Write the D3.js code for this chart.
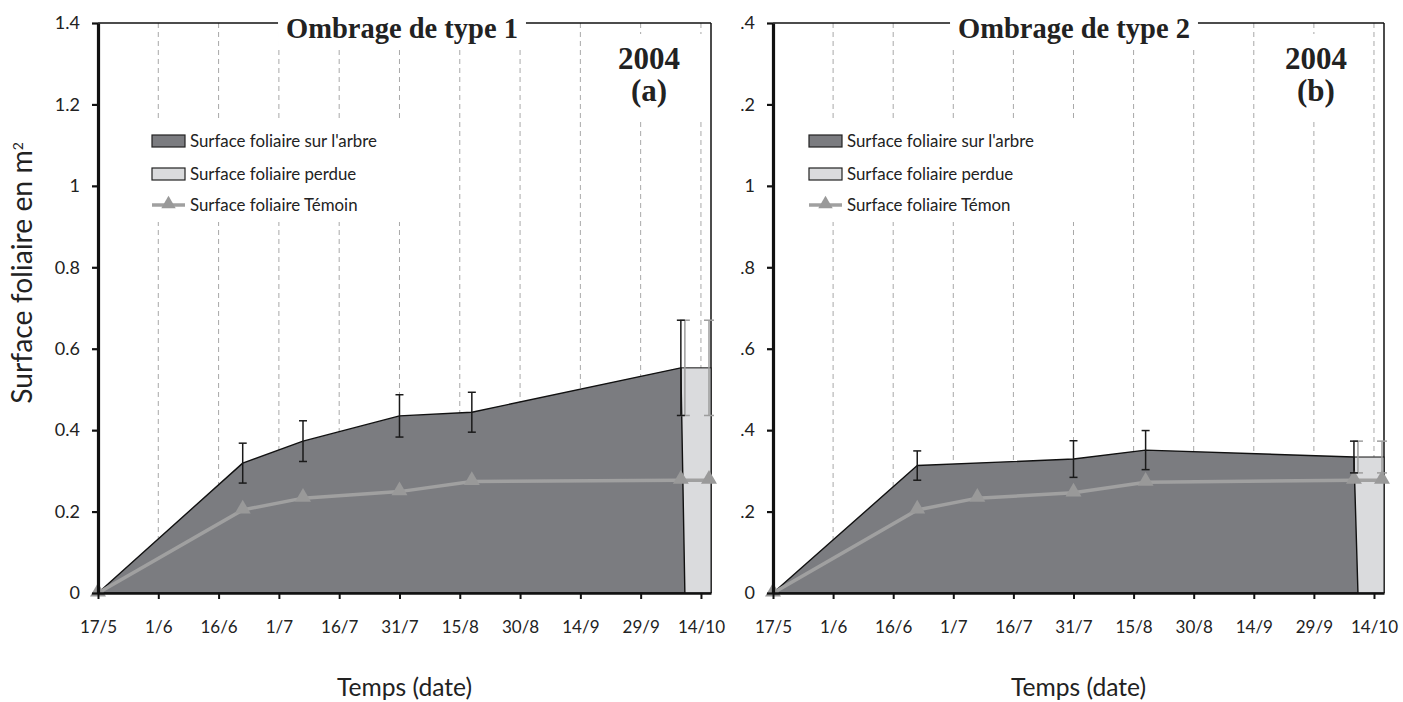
<!DOCTYPE html>
<html><head><meta charset="utf-8">
<script src="https://cdn.jsdelivr.net/npm/d3@7"></script>
<style>body{margin:0;background:#fff}svg{display:block}</style>
</head><body><svg id="c" width="1403" height="702"></svg>
<script>
// ---------- DATA ----------
const xTickLabels = ["17/5","1/6","16/6","1/7","16/7","31/7","15/8","30/8","14/9","29/9","14/10"];
const yTickValues = [0,0.2,0.4,0.6,0.8,1,1.2,1.4];
const yTickLabels = ["0","0.2","0.4","0.6","0.8","1","1.2","1.4"];

// Panel (a)
const arbreDatesA = ["17/5","22/6","7/7","31/7","18/8","9/10"];
const arbreA      = [0, 0.319, 0.373, 0.435, 0.444, 0.553];
const arbreErrA   = [null, 0.049, 0.050, 0.052, 0.049, 0.117];
const perdueDates = ["10/10","16/10"];
const perdueErrA  = [0.117, 0.117];
const temoinDates = ["17/5","22/6","7/7","31/7","18/8","9/10","16/10"];
const temoinA     = [0, 0.204, 0.233, 0.249, 0.274, 0.277, 0.277];

// Panel (b)
const arbreDatesB = ["17/5","22/6","31/7","18/8","9/10"];
const arbreB      = [0, 0.313, 0.329, 0.351, 0.334];
const arbreErrB   = [null, 0.036, 0.045, 0.048, 0.039];
const perdueErrB  = [0.039, 0.039];
const temoinB     = [0, 0.204, 0.233, 0.246, 0.272, 0.277, 0.277];

const titles      = ["Ombrage de type 1","Ombrage de type 2"];
const yearLabel   = "2004";
const panelLabels = ["(a)","(b)"];
const legendA     = ["Surface foliaire sur l'arbre","Surface foliaire perdue","Surface foliaire Témoin"];
const legendB     = ["Surface foliaire sur l'arbre","Surface foliaire perdue","Surface foliaire Témon"];
const yTitle      = "Surface foliaire en m";
const yTitleSup   = "2";
const xTitle      = "Temps (date)";

// ---------- LAYOUT / STYLE ----------
const svg = d3.select("#c");
const parse = s => d3.timeParse("%d/%m/%Y")(s + "/2004");
const TOP = 23, BOTTOM = 593;
const SANS = "Lato, 'Open Sans', sans-serif";
const SERIF = "'Liberation Serif', 'Times New Roman', serif";
const C_DARK = "#7b7c80", C_LIGHT = "#dadbdd", C_TEM = "#a0a0a0";

const panels = [
  {left:98, right:711, titleX:402, yearX:649, legendX:152, clip:null,
   arbreDates:arbreDatesA, arbre:arbreA, arbreErr:arbreErrA, perdueErr:perdueErrA,
   temoin:temoinA, title:titles[0], label:panelLabels[0], legend:legendA},
  {left:773, right:1384, titleX:1074, yearX:1316, legendX:809, clip:741,
   arbreDates:arbreDatesB, arbre:arbreB, arbreErr:arbreErrB, perdueErr:perdueErrB,
   temoin:temoinB, title:titles[1], label:panelLabels[1], legend:legendB}
];

const y = d3.scaleLinear().domain([0,1.4]).range([BOTTOM, TOP]);

const defs = svg.append("defs");
defs.append("clipPath").attr("id","clipB").append("rect")
  .attr("x",741).attr("y",0).attr("width",1403-741).attr("height",702);

function fit(sel, target){
  const w = sel.node().getComputedTextLength();
  const fs = parseFloat(sel.attr("font-size"));
  sel.attr("font-size", (fs*target/w).toFixed(2));
}

// draw panel b first, then a
[panels[1], panels[0]].forEach(p => {
  const g = svg.append("g").attr("clip-path", p.clip ? "url(#clipB)" : null);
  const x = d3.scaleTime()
    .domain([parse("17/5"), d3.timeHour.offset(parse("16/10"), 12)])
    .range([p.left, p.right]);

  // gridlines
  g.append("g").selectAll("line").data(xTickLabels.slice(1)).join("line")
    .attr("x1", d => x(parse(d))).attr("x2", d => x(parse(d)))
    .attr("y1", TOP).attr("y2", BOTTOM)
    .attr("stroke","#a8a8a8").attr("stroke-width",1).attr("stroke-dasharray","5,4");

  // border top/right
  g.append("line").attr("x1",p.left).attr("x2",p.right).attr("y1",TOP).attr("y2",TOP)
    .attr("stroke","#111").attr("stroke-width",1.3);
  g.append("line").attr("x1",p.right).attr("x2",p.right).attr("y1",TOP).attr("y2",BOTTOM)
    .attr("stroke","#111").attr("stroke-width",1.5);

  // white boxes
  const boxes = g.append("g");

  // lost area
  const nA = p.arbre.length - 1;
  const lastX = x(parse(p.arbreDates[nA]));
  g.append("rect").attr("x", lastX).attr("y", y(p.arbre[nA]))
    .attr("width", p.right - lastX).attr("height", y(0) - y(p.arbre[nA]))
    .attr("fill", C_LIGHT).attr("stroke","#111").attr("stroke-width",1);

  // tree area
  const pts = p.arbreDates.map((d,i) => [x(parse(d)), y(p.arbre[i])]);
  pts.push([x(parse(perdueDates[0])), y(0)]);
  pts.push([x(parse("17/5")), y(0)]);
  g.append("path").attr("d", d3.line()(pts) + "Z")
    .attr("fill", C_DARK).attr("stroke","#111").attr("stroke-width",1.4).attr("stroke-linejoin","round");

  // témoin line
  g.append("path").datum(temoinDates.map((d,i)=>[x(parse(d)), y(p.temoin[i])]))
    .attr("d", d3.line()).attr("fill","none").attr("stroke",C_TEM).attr("stroke-width",3.5);
  g.append("g").selectAll("path").data(temoinDates).join("path")
    .attr("transform",(d,i)=>`translate(${x(parse(d))},${y(p.temoin[i])-1})`)
    .attr("d", d3.symbol(d3.symbolTriangle, 110)).attr("fill","#999");

  // error bars helper
  function errBar(cx, v, e, color, cap){
    const eg = g.append("g").attr("stroke",color).attr("stroke-width",1.5);
    eg.append("line").attr("x1",cx).attr("x2",cx).attr("y1",y(v-e)).attr("y2",y(v+e));
    [v-e, v+e].forEach(vv => eg.append("line").attr("x1",cx-cap/2).attr("x2",cx+cap/2)
      .attr("y1",y(vv)).attr("y2",y(vv)));
  }
  perdueDates.forEach((d,i) => errBar(x(parse(d)), p.arbre[nA], p.perdueErr[i], "#9d9d9d", 10));
  p.arbreDates.forEach((d,i) => { if (p.arbreErr[i] != null) errBar(x(parse(d)), p.arbre[i], p.arbreErr[i], "#1a1a1a", 8); });

  // axes
  const ya = g.append("g").attr("transform",`translate(${p.left},0)`)
    .call(d3.axisLeft(y).tickValues(yTickValues).tickFormat((d,i)=>yTickLabels[i]).tickSize(6).tickSizeOuter(0).tickPadding(12));
  ya.select(".domain").attr("stroke","#111").attr("stroke-width",3.2);
  ya.selectAll(".tick line").attr("stroke","#111").attr("stroke-width",2.2);
  ya.selectAll("text").attr("font-family",SANS).attr("font-size",18).attr("fill","#222");

  const xa = g.append("g").attr("transform",`translate(0,${BOTTOM})`)
    .call(d3.axisBottom(x).tickValues(xTickLabels.map(parse)).tickFormat((d,i)=>xTickLabels[i]).tickSize(6).tickSizeOuter(0).tickPadding(22));
  xa.select(".domain").attr("stroke","#111").attr("stroke-width",2.6);
  xa.selectAll(".tick line").attr("stroke","#111").attr("stroke-width",2);
  xa.selectAll("text").attr("font-family",SANS).attr("font-size",17).attr("fill","#222");

  // title
  const tt = g.append("text").attr("x",p.titleX).attr("y",38).attr("text-anchor","middle")
    .attr("font-family",SERIF).attr("font-weight","bold").attr("font-size",28.5).attr("fill","#222").text(p.title);
  const tw = tt.node().getComputedTextLength();
  boxes.append("rect").attr("x",p.titleX - tw/2 - 8).attr("y",8).attr("width",tw+16).attr("height",40).attr("fill","#fff");

  // year & label
  g.append("text").attr("x",p.yearX).attr("y",69).attr("text-anchor","middle")
    .attr("font-family",SERIF).attr("font-weight","bold").attr("font-size",31).attr("fill","#222").text(yearLabel);
  g.append("text").attr("x",p.yearX).attr("y",101).attr("text-anchor","middle")
    .attr("font-family",SERIF).attr("font-weight","bold").attr("font-size",31).attr("fill","#222").text(p.label);
  boxes.append("rect").attr("x",p.yearX-38).attr("y",34).attr("width",94).attr("height",86).attr("fill","#fff");

  // legend
  const lx = p.legendX;
  const lg = g.append("g");
  const rowsY = [141, 174, 205];
  lg.append("rect").attr("x",lx).attr("y",rowsY[0]-6).attr("width",33).attr("height",12)
    .attr("fill",C_DARK).attr("stroke","#222").attr("stroke-width",1.2);
  lg.append("rect").attr("x",lx).attr("y",rowsY[1]-6).attr("width",33).attr("height",12)
    .attr("fill",C_LIGHT).attr("stroke","#222").attr("stroke-width",1.2);
  lg.append("line").attr("x1",lx).attr("x2",lx+33).attr("y1",rowsY[2]).attr("y2",rowsY[2])
    .attr("stroke",C_TEM).attr("stroke-width",3.5);
  lg.append("path").attr("transform",`translate(${lx+16.5},${rowsY[2]-1})`)
    .attr("d", d3.symbol(d3.symbolTriangle, 90)).attr("fill","#999");
  p.legend.forEach((t,i) => {
    const tx = lg.append("text").attr("x",lx+38).attr("y",rowsY[i]+6)
      .attr("font-family",SANS).attr("font-size",16).attr("fill","#222").text(t);
    if (i===0) fit(tx, 187);
  });
  lg.selectAll("text").attr("font-size", lg.select("text").attr("font-size"));
  boxes.append("rect").attr("x",lx-8).attr("y",120).attr("width",33+38+187+28).attr("height",102).attr("fill","#fff");

  // y title
  const yt = g.append("text").attr("transform",`translate(${p.left-66},273) rotate(-90)`)
    .attr("text-anchor","middle").attr("font-family",SANS).attr("font-size",22).attr("fill","#222");
  yt.append("tspan").text(yTitle);
  yt.append("tspan").attr("dy",-9).attr("font-size",14).text(yTitleSup);
  fit(yt, 264);

  // x title
  const xt = g.append("text").attr("x",(p.left+p.right)/2).attr("y",696).attr("text-anchor","middle")
    .attr("font-family",SANS).attr("font-size",22).attr("fill","#222").text(xTitle);
  fit(xt, 135);
});
</script>
</body></html>
